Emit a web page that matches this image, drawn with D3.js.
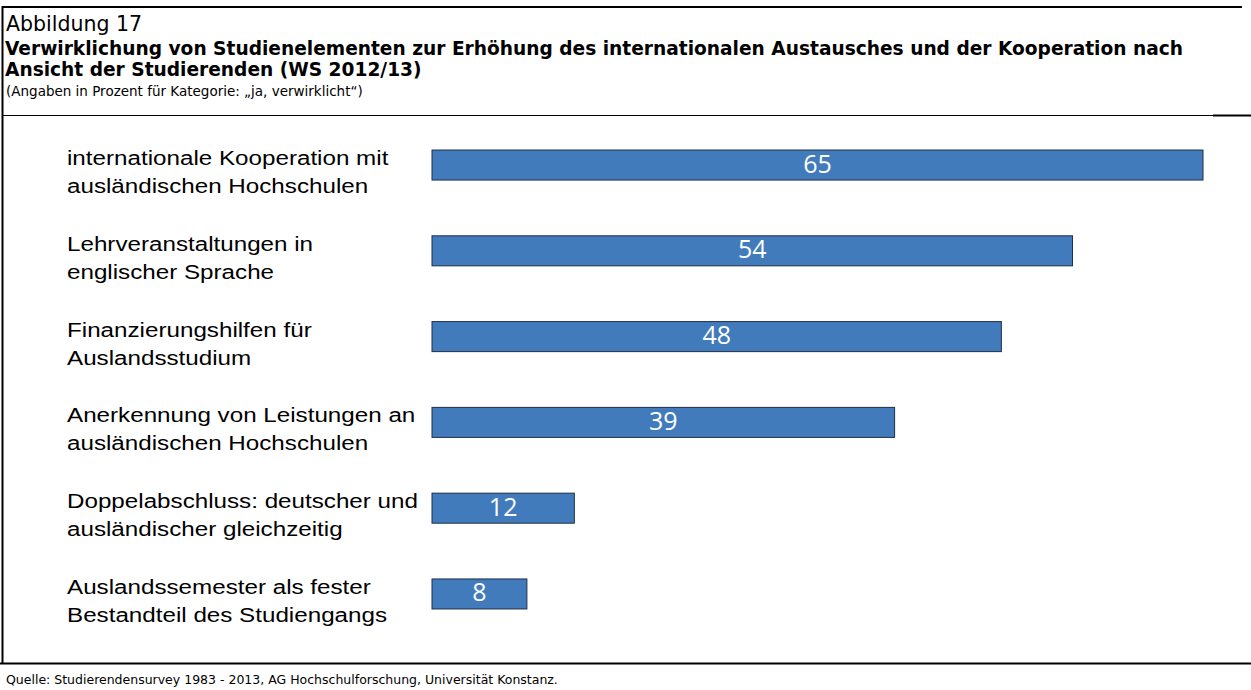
<!DOCTYPE html>
<html>
<head>
<meta charset="utf-8">
<script src="https://cdn.jsdelivr.net/npm/d3@7"></script>
<style>
  body { margin: 0; background: #fff; }
  svg { display: block; }
</style>
</head>
<body>
<div id="chart"></div>
<script>
// chart data
var categories = [
    ["internationale Kooperation mit", "ausländischen Hochschulen"],
    ["Lehrveranstaltungen in", "englischer Sprache"],
    ["Finanzierungshilfen für", "Auslandsstudium"],
    ["Anerkennung von Leistungen an", "ausländischen Hochschulen"],
    ["Doppelabschluss: deutscher und", "ausländischer gleichzeitig"],
    ["Auslandssemester als fester", "Bestandteil des Studiengangs"]
];
var values = [65, 54, 48, 39, 12, 8];

var figureLabel = "Abbildung 17";
var titleLines = [
    "Verwirklichung von Studienelementen zur Erhöhung des internationalen Austausches und der Kooperation nach",
    "Ansicht der Studierenden (WS 2012/13)"
];
var subtitle = "(Angaben in Prozent für Kategorie: „ja, verwirklicht“)";
var source = "Quelle: Studierendensurvey 1983 - 2013, AG Hochschulforschung, Universität Konstanz.";

var svgWidth = 1251;
var svgHeight = 690;

var svg = d3.select("#chart")
    .append("svg")
    .attr("width", svgWidth)
    .attr("height", svgHeight);

var headFont = "'DejaVu Sans', 'Noto Sans', sans-serif";
var labelFont = "'Liberation Sans', Arial, sans-serif";
var numFont = "'Open Sans', 'Noto Sans', sans-serif";

// frame lines
svg.append("line").attr("x1", 2).attr("x2", 1242).attr("y1", 7).attr("y2", 7)
    .attr("stroke", "#000").attr("stroke-width", 2);
svg.append("line").attr("x1", 2.5).attr("x2", 2.5).attr("y1", 6).attr("y2", 664)
    .attr("stroke", "#000").attr("stroke-width", 2);
svg.append("line").attr("x1", 2).attr("x2", 1213).attr("y1", 115.5).attr("y2", 115.5)
    .attr("stroke", "#000").attr("stroke-width", 1);
svg.append("line").attr("x1", 1213).attr("x2", 1251).attr("y1", 115.5).attr("y2", 115.5)
    .attr("stroke", "#000").attr("stroke-width", 2);
svg.append("line").attr("x1", 0).attr("x2", 1251).attr("y1", 663.5).attr("y2", 663.5)
    .attr("stroke", "#000").attr("stroke-width", 2);

// header text
svg.append("text").attr("x", 6).attr("y", 31)
    .style("font-family", headFont).style("font-size", "20.5px")
    .text(figureLabel);

svg.selectAll(".title")
    .data(titleLines)
    .enter()
    .append("text")
    .attr("class", "title")
    .attr("x", 5)
    .attr("y", (d, i) => 55 + i * 21)
    .style("font-family", headFont).style("font-size", "18.6px").style("font-weight", "bold")
    .text(d => d);

svg.append("text").attr("x", 6).attr("y", 96)
    .style("font-family", headFont).style("font-size", "13.5px")
    .text(subtitle);

svg.append("text").attr("x", 6).attr("y", 684)
    .style("font-family", headFont).style("font-size", "12.5px")
    .text(source);

// scales
var x = d3.scaleLinear()
    .domain([0, 65])
    .range([432, 1203]);

var y = d3.scaleBand()
    .domain(d3.range(categories.length))
    .range([120, 639])
    .paddingInner(0.65)
    .paddingOuter(0.35);

var rows = svg.append("g").selectAll("g")
    .data(values)
    .enter()
    .append("g");

rows.append("rect")
    .attr("x", x(0))
    .attr("y", (d, i) => y(i))
    .attr("width", d => x(d) - x(0))
    .attr("height", y.bandwidth())
    .attr("fill", "#417bbc")
    .attr("stroke", "#1f2f45")
    .attr("stroke-width", 1);

rows.append("text")
    .attr("x", d => (x(0) + x(d)) / 2)
    .attr("y", (d, i) => y(i) + y.bandwidth() / 2)
    .attr("dy", "0.3em")
    .attr("text-anchor", "middle")
    .style("font-family", numFont).style("font-size", "25px")
    .attr("fill", "#fff")
    .text(d => d);

// category labels (reference face is wider than Arial, so stretch horizontally)
svg.append("g").selectAll("text")
    .data(categories)
    .enter()
    .append("text")
    .attr("transform", (d, i) => `translate(67, ${y(i) + y.bandwidth() / 2}) scale(1.21, 1)`)
    .style("font-family", labelFont).style("font-size", "20px")
    .attr("fill", "#000")
    .each(function(d) {
        var t = d3.select(this);
        d.forEach(function(line, j) {
            t.append("tspan").attr("x", 0).attr("dy", j === 0 ? 0 : 28).text(line);
        });
    });
</script>
</body>
</html>
